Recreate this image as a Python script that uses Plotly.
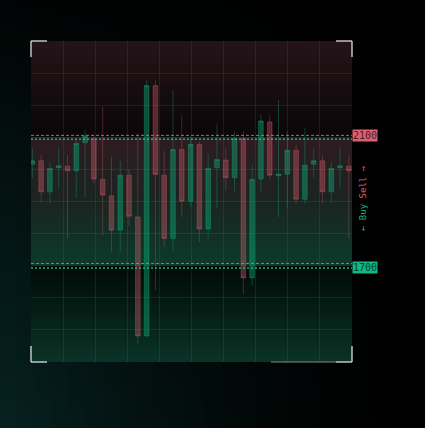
import plotly.graph_objects as go

# ---- data ----
idx = list(range(37))
opens  = [2016, 2027, 1930, 2005, 2010, 1996, 2083, 2096, 1969, 1918,
          1811, 1982, 1852, 1481, 2261, 1982, 1785, 2062, 1901, 2078,
          1814, 2005, 2029, 1974, 2096, 1662, 1970, 2148, 1980, 1985,
          2060, 1907, 2016, 2027, 1930, 2005, 2010]
closes = [2027, 1930, 2003, 2011, 1996, 2081, 2104, 1970, 1920, 1811,
          1982, 1854, 1481, 2261, 1984, 1785, 2062, 1901, 2078, 1814,
          2003, 2031, 1974, 2096, 1662, 1969, 2151, 1982, 1985, 2060,
          1907, 2013, 2027, 1930, 2003, 2011, 1996]
highs  = [2065, 2045, 2022, 2069, 2045, 2091, 2122, 2107, 2195, 2039,
          2026, 2001, 2112, 2278, 2278, 2057, 2247, 2169, 2102, 2086,
          2047, 2143, 2065, 2119, 2119, 2015, 2171, 2169, 2216, 2119,
          2076, 2130, 2065, 2045, 2022, 2069, 2045]
lows   = [1972, 1896, 1896, 1941, 1785, 1911, 1911, 1956, 1795, 1743,
          1743, 1824, 1457, 1478, 1623, 1759, 1746, 1852, 1883, 1774,
          1783, 1880, 1932, 1932, 1613, 1639, 1930, 1970, 1852, 1878,
          1891, 1894, 1972, 1896, 1896, 1941, 1785]

sell_level = 2100
buy_level = 1700
sell_label = "2100"
buy_label = "1700"
y_min, y_max = 1400, 2400

# ---- layout geometry ----
W, H = 425, 428
L, R, T, B = 31, 352, 41, 362          # plot box in pixels
ppu = (B - T) / (y_max - y_min)        # pixels per price unit
bg_ylo = y_min - (H - B) / ppu
bg_yhi = y_max + T / ppu

GREEN = "#10b981"
RED = "#e0606f"

fig = go.Figure()

def rect(x0, x1, y0, y1, cs, orient="vertical"):
    fig.add_trace(go.Scatter(
        x=[x0, x1, x1, x0, x0], y=[y0, y0, y1, y1, y0],
        mode="lines", line=dict(width=0), fill="toself",
        fillgradient=dict(type=orient, colorscale=cs),
        xaxis="x", yaxis="y", hoverinfo="skip", showlegend=False))

# page glow from the lower-left corner (strips approximating a radial glow)
n_strips = 25
sw = W / n_strips
for i in range(n_strips):
    xc = (i + 0.5) * sw
    a = 0.72 * (1 - xc / W) ** 1.6
    rect(i * sw, (i + 1) * sw, bg_ylo, bg_yhi,
         [[0, f"rgba(8,48,46,{a:.3f})"], [0.55, f"rgba(8,48,46,{a*0.55:.3f})"],
          [1, f"rgba(8,48,46,{a*0.1:.3f})"]])

# plot zones
rect(L, R, sell_level, y_max, [[0, "#0a0607"], [1, "#241418"]])
rect(L, R, buy_level, sell_level, [[0, "#0b3a2b"], [0.5, "#1a2420"], [1, "#2e1b21"]])
rect(L, R, y_min, buy_level, [[0, "#0a3326"], [1, "#020a08"]])

fig.add_trace(go.Candlestick(
    x=idx, open=opens, high=highs, low=lows, close=closes,
    xaxis="x2", yaxis="y2",
    increasing=dict(line=dict(color="rgba(16,185,129,0.32)", width=1),
                    fillcolor="rgba(16,185,129,0.4)"),
    decreasing=dict(line=dict(color="rgba(224,96,111,0.3)", width=1),
                    fillcolor="rgba(224,96,111,0.36)"),
    hoverinfo="skip", showlegend=False))

shapes = []
for lvl, off in ((sell_level, 6), (buy_level, 7)):
    shapes.append(dict(type="line", xref="x2 domain", yref="y2", x0=0, x1=1,
                       y0=lvl + off, y1=lvl + off,
                       line=dict(color="rgba(230,110,125,0.85)", width=1, dash="3px,2px")))
    shapes.append(dict(type="line", xref="x2 domain", yref="y2", x0=0, x1=1,
                       y0=lvl - off, y1=lvl - off,
                       line=dict(color="rgba(16,200,140,0.9)", width=1.5, dash="2px,2px")))

bc = "rgba(225,225,225,0.85)"
f = 16 / (R - L)
for (x0, y0, dx, dy) in ((0, 1, 1, -1), (1, 1, -1, -1), (0, 0, 1, 1), (1, 0, -1, 1)):
    shapes.append(dict(type="line", xref="x2 domain", yref="y2 domain",
                       x0=x0, x1=x0 + dx * f, y0=y0, y1=y0, line=dict(color=bc, width=1.5)))
    shapes.append(dict(type="line", xref="x2 domain", yref="y2 domain",
                       x0=x0, x1=x0, y0=y0, y1=y0 + dy * f, line=dict(color=bc, width=1.5)))
shapes.append(dict(type="line", xref="x2 domain", yref="y2 domain",
                   x0=(271 - L) / (R - L), x1=1 - f, y0=0, y1=0,
                   line=dict(color="rgba(150,150,150,0.6)", width=1.5)))

annotations = [
    dict(xref="x2 domain", yref="y2", x=1, y=sell_level + 6, xanchor="left", yanchor="middle",
         text=sell_label, showarrow=False, bgcolor=RED, borderpad=0,
         font=dict(family="DejaVu Sans Mono", size=10, color="#4a1820")),
    dict(xref="x2 domain", yref="y2", x=1, y=buy_level - 7, xanchor="left", yanchor="middle",
         text=buy_label, showarrow=False, bgcolor=GREEN, borderpad=0,
         font=dict(family="DejaVu Sans Mono", size=10, color="#063d2a")),
    dict(xref="x2 domain", yref="y2", x=1, xshift=11, y=1911, xanchor="center", yanchor="middle",
         textangle=-90, showarrow=False,
         text=f"<span style='color:{GREEN}'>← Buy</span> <span style='color:{RED}'>Sell →</span>",
         font=dict(family="DejaVu Sans Mono", size=9)),
]

xr = [-0.15, 36.36]
fig.update_layout(
    width=W, height=H, margin=dict(l=0, r=0, t=0, b=0),
    paper_bgcolor="#000000", plot_bgcolor="rgba(0,0,0,0)",
    boxgap=0.24,
    xaxis=dict(domain=[0, 1], range=[0, W], visible=False, fixedrange=True),
    yaxis=dict(domain=[0, 1], range=[bg_ylo, bg_yhi], visible=False, fixedrange=True),
    xaxis2=dict(domain=[L / W, R / W], anchor="y2", range=xr,
                tick0=xr[0], dtick=(xr[1] - xr[0]) / 10,
                showgrid=True, gridcolor="rgba(255,255,255,0.07)", gridwidth=1,
                showticklabels=False, zeroline=False, showline=False, ticks="",
                rangeslider=dict(visible=False)),
    yaxis2=dict(domain=[(H - B) / H, (H - T) / H], anchor="x2", range=[y_min, y_max],
                dtick=100, showgrid=True, gridcolor="rgba(255,255,255,0.07)", gridwidth=1,
                showticklabels=False, zeroline=False, showline=False, ticks=""),
    shapes=shapes, annotations=annotations, showlegend=False,
)

fig.write_html("out.html", config={"displayModeBar": False},
               post_script="document.body.style.margin='0px';document.body.style.background='#000';")
